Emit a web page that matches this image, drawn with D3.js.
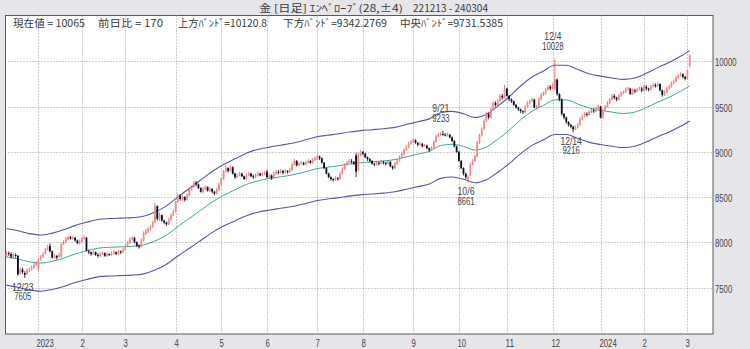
<!DOCTYPE html>
<html><head><meta charset="utf-8">
<script src="https://cdn.jsdelivr.net/npm/d3@7"></script>
<style>body{margin:0;background:#e6e6ea;}svg{display:block}</style>
</head><body><svg id="c" width="750" height="349"></svg>
<script>
// ---- data (JPX gold, daily, 2022-12-13 .. 2024-03-04) ----
const opens = [
7840,7880,7870,7840,7860,7850,7660,7700,7660,7650,
7690,7700,7720,7750,7700,7810,7840,7880,7920,7960,
7900,7830,7850,7840,7840,7980,8000,8030,8060,8040,
8050,8020,7990,8010,8040,8050,7900,7890,7870,7890,
7860,7850,7870,7880,7850,7870,7860,7880,7890,7870,
7900,7890,7920,7960,7990,8030,8050,8000,7960,7950,
8020,8100,8120,8150,8170,8220,8400,8260,8300,8240,
8220,8200,8250,8300,8340,8450,8510,8480,8500,8470,
8520,8580,8610,8660,8640,8600,8560,8590,8610,8570,
8590,8560,8540,8580,8640,8700,8780,8820,8790,8830,
8760,8720,8740,8760,8730,8700,8740,8760,8730,8720,
8740,8760,8740,8750,8780,8720,8740,8710,8760,8780,
8770,8790,8770,8790,8780,8800,8860,8900,8850,8870,
8880,8860,8880,8900,8880,8910,8920,8950,8930,8880,
8820,8760,8720,8700,8690,8710,8700,8760,8810,8860,
8880,8900,8890,8960,8800,8960,9000,8980,8940,8920,
8900,8870,8860,8880,8870,8890,8880,8870,8890,8840,
8820,8870,8900,8940,8970,9020,9050,9090,9110,9130,
9100,9080,9090,9060,9070,9040,9020,9040,9110,9170,
9190,9200,9190,9180,9190,9160,9120,9060,9000,8900,
8820,8760,8700,8740,8860,8900,8950,9100,9180,9250,
9340,9420,9380,9470,9540,9520,9560,9620,9600,9700,
9620,9580,9560,9520,9490,9470,9450,9440,9500,9540,
9560,9580,9490,9500,9580,9630,9650,9690,9720,9700,
9700,9800,9640,9580,9420,9380,9330,9300,9280,9250,
9270,9300,9360,9390,9420,9410,9440,9460,9450,9480,
9500,9380,9460,9500,9540,9580,9620,9600,9580,9620,
9650,9660,9690,9700,9640,9680,9670,9690,9700,9680,
9720,9700,9690,9720,9740,9730,9750,9680,9630,9660,
9700,9720,9760,9780,9820,9840,9860,9830,9810,9950];
const highs = [
7900,7900,7890,7880,7880,7860,7720,7720,7680,7710,
7720,7740,7770,7790,7820,7860,7890,7940,7970,7990,
7910,7870,7860,7880,7990,8020,8060,8070,8070,8070,
8060,8030,8030,8060,8080,8060,7920,7900,7910,7900,
7880,7890,7900,7890,7890,7880,7900,7910,7900,7920,
7910,7940,7980,8010,8050,8070,8060,8010,7980,8040,
8120,8150,8170,8190,8240,8430,8410,8330,8310,8250,
8230,8270,8320,8360,8460,8540,8530,8520,8510,8540,
8600,8630,8680,8680,8650,8610,8610,8630,8620,8610,
8600,8570,8600,8660,8720,8800,8850,8830,8850,8840,
8770,8760,8780,8770,8740,8760,8780,8770,8750,8760,
8780,8770,8770,8790,8800,8760,8750,8780,8800,8800,
8810,8800,8810,8800,8820,8880,8920,8910,8890,8900,
8890,8900,8920,8910,8930,8950,8970,8960,8940,8890,
8830,8770,8730,8710,8730,8720,8780,8830,8880,8900,
8920,8920,8900,8990,8990,9020,9010,8990,8950,8930,
8910,8880,8900,8890,8910,8900,8890,8910,8900,8850,
8890,8920,8960,8990,9040,9070,9110,9130,9150,9140,
9110,9110,9100,9090,9080,9050,9060,9130,9190,9210,
9220,9233,9210,9210,9200,9170,9130,9070,9010,8910,
8830,8770,8740,8880,8920,8970,9120,9200,9270,9360,
9440,9430,9490,9560,9560,9580,9640,9640,9740,9710,
9630,9590,9570,9530,9500,9480,9460,9520,9560,9580,
9600,9590,9520,9600,9650,9670,9710,9740,9740,9760,
10028,9810,9650,9590,9430,9390,9340,9310,9290,9290,
9320,9380,9410,9440,9440,9460,9480,9480,9500,9520,
9510,9480,9520,9560,9600,9640,9640,9610,9640,9670,
9680,9710,9720,9710,9700,9700,9710,9720,9720,9740,
9740,9710,9740,9760,9760,9770,9760,9690,9680,9720,
9740,9780,9800,9840,9860,9880,9870,9840,9910,10080];
const lows = [
7830,7850,7820,7820,7830,7630,7640,7650,7605,7640,
7670,7690,7710,7740,7680,7800,7830,7870,7910,7890,
7820,7820,7810,7830,7830,7970,7990,8020,8030,8030,
8010,7980,7980,8000,8030,7900,7870,7850,7860,7850,
7830,7840,7860,7840,7840,7850,7850,7870,7860,7860,
7870,7880,7910,7950,7980,8020,7990,7950,7930,7940,
8010,8080,8100,8130,8160,8210,8240,8240,8230,8200,
8180,8190,8240,8290,8330,8440,8460,8460,8450,8460,
8510,8570,8600,8620,8590,8550,8540,8580,8560,8560,
8540,8520,8530,8570,8630,8690,8770,8770,8780,8750,
8700,8710,8730,8720,8690,8690,8730,8720,8700,8710,
8730,8730,8730,8740,8710,8700,8690,8700,8750,8750,
8760,8750,8760,8760,8770,8790,8850,8840,8840,8860,
8850,8850,8870,8870,8870,8900,8910,8910,8870,8810,
8750,8710,8680,8670,8680,8680,8690,8750,8800,8850,
8870,8870,8850,8720,8790,8950,8960,8930,8900,8880,
8860,8840,8850,8850,8860,8860,8850,8860,8830,8800,
8810,8860,8890,8930,8960,9010,9040,9080,9100,9090,
9060,9070,9050,9050,9030,9000,9010,9030,9100,9160,
9180,9180,9170,9170,9150,9110,9050,8990,8890,8810,
8740,8700,8661,8730,8850,8890,8940,9090,9170,9240,
9330,9360,9370,9460,9500,9510,9550,9580,9590,9610,
9560,9540,9510,9480,9450,9430,9420,9430,9490,9530,
9550,9480,9470,9490,9570,9620,9640,9680,9680,9690,
9680,9620,9560,9400,9360,9310,9280,9260,9216,9240,
9260,9290,9350,9380,9390,9400,9430,9430,9440,9470,
9370,9370,9450,9490,9530,9570,9580,9560,9570,9610,
9640,9650,9680,9630,9630,9650,9660,9680,9660,9670,
9680,9670,9680,9710,9710,9720,9670,9610,9620,9650,
9690,9710,9750,9770,9810,9830,9810,9790,9800,9940];
const closes = [
7880,7870,7840,7860,7850,7645,7700,7670,7640,7690,
7700,7720,7750,7770,7810,7840,7870,7920,7950,7900,
7830,7850,7830,7860,7980,8000,8040,8060,8040,8050,
8020,7990,8010,8040,8060,7910,7890,7870,7890,7860,
7850,7870,7880,7850,7870,7860,7880,7890,7870,7900,
7890,7920,7960,7990,8030,8050,8000,7960,7950,8020,
8100,8120,8150,8170,8220,8400,8260,8300,8240,8220,
8200,8250,8300,8340,8450,8520,8480,8500,8470,8520,
8580,8610,8660,8640,8600,8560,8590,8610,8570,8590,
8560,8540,8580,8640,8700,8780,8820,8790,8830,8760,
8720,8740,8760,8730,8700,8740,8760,8730,8720,8740,
8760,8740,8750,8770,8720,8740,8710,8760,8780,8770,
8790,8770,8790,8780,8800,8860,8900,8850,8870,8880,
8860,8880,8900,8880,8910,8930,8950,8930,8880,8820,
8760,8720,8700,8690,8710,8700,8760,8810,8860,8880,
8900,8890,8870,8780,8960,9000,8980,8940,8920,8900,
8870,8860,8880,8870,8890,8880,8870,8890,8840,8820,
8870,8900,8940,8970,9020,9050,9090,9110,9130,9100,
9080,9090,9060,9070,9040,9020,9040,9110,9170,9190,
9200,9190,9180,9190,9160,9120,9060,9000,8900,8820,
8760,8720,8720,8860,8900,8950,9100,9180,9250,9340,
9420,9380,9470,9540,9520,9560,9620,9600,9700,9620,
9580,9560,9520,9490,9470,9450,9440,9500,9540,9560,
9580,9490,9500,9580,9630,9650,9690,9720,9700,9740,
9800,9640,9580,9420,9380,9330,9300,9280,9250,9270,
9300,9360,9390,9420,9410,9440,9460,9450,9480,9500,
9380,9460,9500,9540,9580,9620,9600,9580,9620,9650,
9660,9690,9700,9640,9680,9670,9690,9700,9680,9720,
9700,9690,9720,9740,9730,9750,9680,9630,9660,9700,
9720,9760,9780,9820,9840,9860,9830,9810,9895,10065];
// 28-day moving average (index of trading day, value)
const maIndex = [0,5,10,15,20,25,30,35,40,45,50,55,60,65,70,75,80,85,90,95,100,105,110,115,120,125,130,135,140,145,150,155,160,165,170,175,180,185,190,195,200,205,210,215,220,225,230,235,240,245,250,255,260,265,270,275,280,285,290,295,299];
const maValues = [7840,7815,7785,7770,7790,7825,7870,7905,7935,7945,7950,7955,7970,8015,8080,8175,8265,8355,8445,8520,8580,8640,8680,8705,8725,8745,8775,8810,8830,8845,8865,8880,8890,8900,8915,8945,8975,9005,9070,9085,9060,9020,9055,9140,9240,9355,9450,9515,9575,9575,9530,9485,9460,9440,9425,9440,9490,9550,9605,9670,9731.5385];
const envelopePct = 4, maPeriod = 28;
const holidays = ["2023-01-02","2023-01-03","2023-01-09","2023-02-23","2023-03-21","2023-05-03","2023-05-04","2023-05-05","2023-07-17","2023-08-11","2023-09-18","2023-10-09","2023-11-03","2023-11-23","2024-01-01","2024-01-02","2024-01-03","2024-01-08","2024-02-12","2024-02-23"];
const yTicks = [7500,8000,8500,9000,9500,10000];
// annotated extremes: trading-day index and kind
const marks = [{i:8,kind:"low"},{i:191,kind:"high"},{i:202,kind:"low"},{i:240,kind:"high"},{i:248,kind:"low"}];

// ---- trading calendar ----
const fmt = d3.timeFormat("%Y-%m-%d");
const dates = [];
for (let d = new Date(2022,11,13); d <= new Date(2024,2,4); d = d3.timeDay.offset(d,1)) {
  const wd = d.getDay();
  if (wd === 0 || wd === 6) continue;
  if (holidays.includes(fmt(d))) continue;
  dates.push(new Date(d));
}

// ---- layout ----
const svg = d3.select("#c");
const P = {l:5.5, r:713, t:15.5, b:334};
const x = d3.scaleLinear().domain([-0.44, 309.2]).range([P.l, P.r]);
const y = d3.scaleLinear().domain([6986, 10514]).range([334, 15]);
const JP = "'Noto Sans CJK JP','Noto Sans',sans-serif";
const TF = "'Liberation Sans',sans-serif";

svg.append("rect").attr("width",750).attr("height",349).attr("fill","#e6e6ea");
svg.append("rect").attr("x",P.l).attr("y",P.t).attr("width",P.r-P.l).attr("height",P.b-P.t)
  .attr("fill","#ffffff").attr("stroke","#5a5a5a").attr("stroke-width",1);

// grid
const g = svg.append("g");
yTicks.forEach(v => {
  const yy = Math.round(y(v)) + 0.5;
  g.append("line").attr("x1",P.l).attr("x2",P.r).attr("y1",yy).attr("y2",yy)
    .attr("stroke","#9a9a9a").attr("stroke-dasharray","1,2");
  const s = String(v);
  g.append("text").attr("x",715).attr("y",yy+4).text(s)
    .attr("font-family",TF).attr("font-size",10.5).attr("fill","#444")
    .attr("textLength",s.length*4.3).attr("lengthAdjust","spacingAndGlyphs");
});
const monthStarts = [];
for (let i = 1; i < dates.length; i++) {
  if (dates[i].getMonth() !== dates[i-1].getMonth()) monthStarts.push(i);
}
monthStarts.forEach(i => {
  const xx = Math.round(x(i)) + 0.5;
  g.append("line").attr("x1",xx).attr("x2",xx).attr("y1",P.t).attr("y2",P.b)
    .attr("stroke","#9a9a9a").attr("stroke-dasharray","1,2");
  const dt = dates[i];
  const s = dt.getMonth() === 0 ? String(dt.getFullYear()) : String(dt.getMonth()+1);
  g.append("text").attr("x",xx-2).attr("y",347).text(s)
    .attr("font-family",TF).attr("font-size",10.5).attr("fill","#444")
    .attr("textLength",s.length*4.3).attr("lengthAdjust","spacingAndGlyphs");
});

// envelope & moving average
const maPts = maIndex.map((i,k) => [i, maValues[k]]);
const line = f => d3.line().x(d => x(d[0])).y(d => y(d[1]*f)).curve(d3.curveMonotoneX);
svg.append("path").attr("d", line(1+envelopePct/100)(maPts)).attr("fill","none").attr("stroke","#5656aa").attr("stroke-width",1.1);
svg.append("path").attr("d", line(1-envelopePct/100)(maPts)).attr("fill","none").attr("stroke","#5656aa").attr("stroke-width",1.1);
svg.append("path").attr("d", line(1)(maPts)).attr("fill","none").attr("stroke","#3aa89c").attr("stroke-width",1);

// candles
const bw = 1.8;
const cg = svg.append("g");
closes.forEach((c,i) => {
  const o = opens[i], up = c >= o;
  const xx = x(i);
  cg.append("line").attr("x1",xx).attr("x2",xx).attr("y1",y(highs[i])).attr("y2",y(lows[i]))
    .attr("stroke", up ? "#e05050" : "#0c0c24").attr("stroke-width",0.8);
  const top = y(Math.max(o,c)), h = Math.max(1, y(Math.min(o,c)) - top);
  cg.append("rect").attr("x",xx-bw/2).attr("y",top).attr("width",bw).attr("height",h)
    .attr("fill", up ? "#f58a8a" : "#0c0c24");
});

// annotations
const tf = d3.timeFormat("%-m/%-d");
marks.forEach(m => {
  const xx = x(m.i) - 2;
  const val = m.kind === "high" ? highs[m.i] : lows[m.i];
  const yy = y(val);
  const lines = m.kind === "high" ? [[tf(dates[m.i]), yy-19],[String(val), yy-9]] : [[tf(dates[m.i]), yy+12.5],[String(val), yy+22]];
  lines.forEach(([s,ty]) => svg.append("text").attr("x",xx).attr("y",ty).attr("text-anchor","middle").text(s)
    .attr("font-family",TF).attr("font-size",10).attr("fill","#444")
    .attr("textLength",s.length*4.3).attr("lengthAdjust","spacingAndGlyphs"));
});

// header & info texts
const yf = d3.timeFormat("%y%m%d");
const maLast = maValues[maValues.length-1];
const cur = closes[closes.length-1], chg = cur - closes[closes.length-2];
const upperB = (maLast*(1+envelopePct/100)).toFixed(1);
const lowerB = (Math.floor(maLast*(1-envelopePct/100)*1e4)/1e4).toFixed(4);
const texts = [
  ["金 [日足] ｴﾝﾍﾞﾛｰﾌﾞ(" + maPeriod + ",±" + envelopePct + ")", 259, 11.5, 144],
  [yf(dates[0]) + " - " + yf(dates[dates.length-1]), 413, 11.5, 75],
  ["現在値 = " + cur, 13, 27, 72],
  ["前日比 = " + chg, 98, 27, 65],
  ["上方ﾊﾞﾝﾄﾞ=" + upperB, 178, 27, 89],
  ["下方ﾊﾞﾝﾄﾞ=" + lowerB, 283, 27, 104],
  ["中央ﾊﾞﾝﾄﾞ=" + maLast.toFixed(4), 400, 27, 103]
];
texts.forEach(([s,tx,ty,w]) => svg.append("text").attr("x",tx).attr("y",ty).text(s)
  .attr("font-family",JP).attr("font-size",10).attr("fill","#3a3a3a")
  .attr("textLength",w).attr("lengthAdjust","spacingAndGlyphs"));
</script></body></html>
